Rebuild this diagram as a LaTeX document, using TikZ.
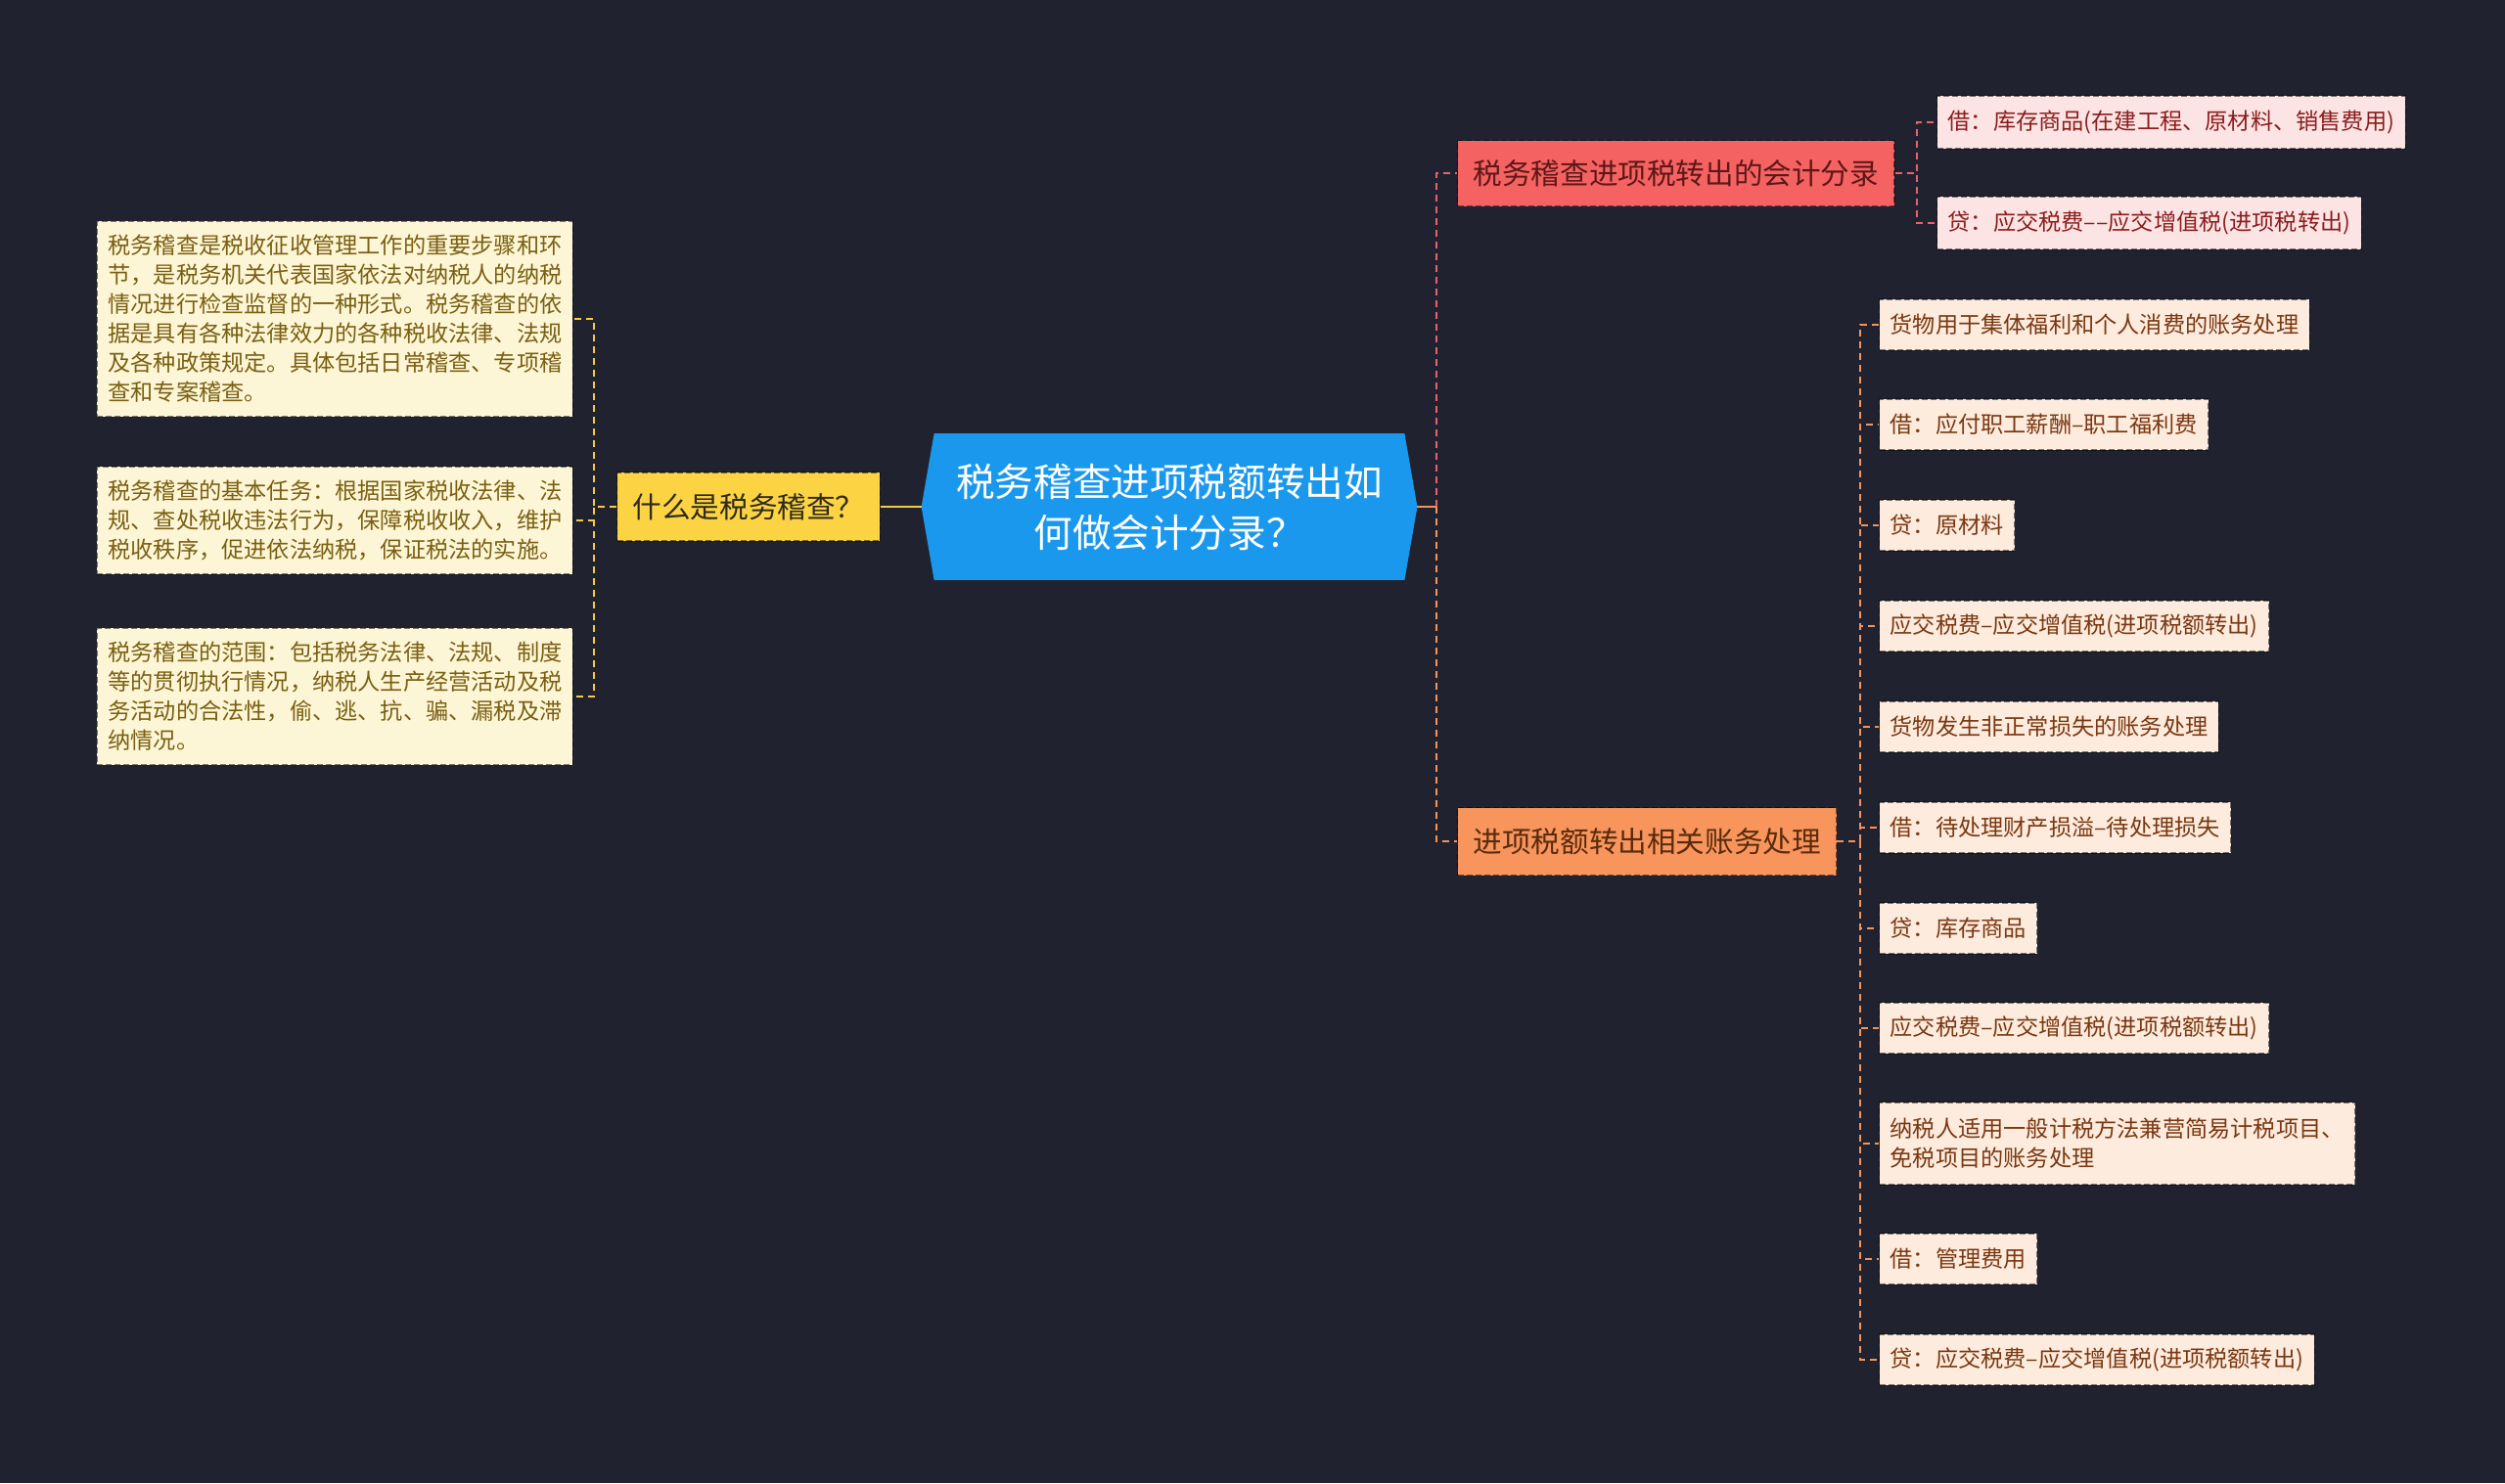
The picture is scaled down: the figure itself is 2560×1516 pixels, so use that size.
\documentclass[tikz,border=0pt]{standalone}
\usepackage{fontspec}
\setmainfont{Noto Sans CJK SC}
\usetikzlibrary{positioning, calc, backgrounds}

\definecolor{bgdark}{HTML}{20232F}
\definecolor{rootblue}{HTML}{1A98EE}
\definecolor{ybox}{HTML}{FCD443}
\definecolor{ytext}{HTML}{2E2A1A}
\definecolor{yleaf}{HTML}{FDF6D6}
\definecolor{yleaftext}{HTML}{7A5F12}
\definecolor{yedge}{HTML}{F4CB45}
\definecolor{rbox}{HTML}{F56262}
\definecolor{rtext}{HTML}{5E1717}
\definecolor{rleaf}{HTML}{FDE4E4}
\definecolor{rleaftext}{HTML}{8A1D1D}
\definecolor{redge}{HTML}{E8626A}
\definecolor{obox}{HTML}{F7955C}
\definecolor{otext}{HTML}{5A2A0C}
\definecolor{oleaf}{HTML}{FDEBDD}
\definecolor{oleaftext}{HTML}{7A3812}
\definecolor{oedge}{HTML}{F2945C}

\begin{document}
\begin{tikzpicture}[
        x=0.5pt, y=-0.5pt,
        box/.style={rectangle, draw=black, draw opacity=0.5, dash pattern=on 3pt off 1.5pt, line width=0.6pt, inner ysep=0pt},
        topic/.style={box, inner xsep=8pt, minimum height=34.5pt, font=\fontsize{14.8}{18}\selectfont, anchor=west},
        leaf/.style={box, inner xsep=5.5pt, minimum height=26pt, align=left, font=\fontsize{11.6}{15}\selectfont},
        note/.style={leaf, fill=yleaf, text=yleaftext, anchor=east, inner ysep=7pt},
        rootnode/.style={rectangle, inner sep=0pt, minimum width=253pt, minimum height=74.5pt, align=center, text=white, font=\fontsize{19.8}{26}\selectfont},
        edge/.style={line width=1pt, dash pattern=on 3.5pt off 2.5pt},
        yline/.style={edge, yedge},
        rline/.style={edge, redge},
        oline/.style={edge, oedge}
    ]
        \useasboundingbox (0,0) rectangle (2560,1516);

        % Nodes
        \node[rootnode] (root) at (1195,518) {税务稽查进项税额转出如\\何做会计分录？};
        \begin{scope}[on background layer]
            \fill[bgdark] (0,0) rectangle (2560,1516);
            \fill[rootblue] ([xshift=6.5pt]root.north west) -- ([xshift=-6.5pt]root.north east) -- (root.east)
                -- ([xshift=-6.5pt]root.south east) -- ([xshift=6.5pt]root.south west) -- (root.west) -- cycle;
        \end{scope}

        \node[topic, fill=ybox, text=ytext, minimum height=35pt] (what) at (630,518) {什么是税务稽查？};
        \node[note] (l1) at (586,326) {税务稽查是税收征收管理工作的重要步骤和环\\节，是税务机关代表国家依法对纳税人的纳税\\情况进行检查监督的一种形式。税务稽查的依\\据是具有各种法律效力的各种税收法律、法规\\及各种政策规定。具体包括日常稽查、专项稽\\查和专案稽查。};
        \node[note] (l2) at (586,532) {税务稽查的基本任务：根据国家税收法律、法\\规、查处税收违法行为，保障税收收入，维护\\税收秩序，促进依法纳税，保证税法的实施。};
        \node[note] (l3) at (586,712) {税务稽查的范围：包括税务法律、法规、制度\\等的贯彻执行情况，纳税人生产经营活动及税\\务活动的合法性，偷、逃、抗、骗、漏税及滞\\纳情况。};

        \node[topic, fill=rbox, text=rtext, minimum height=33.5pt] (entry) at (1489,177) {税务稽查进项税转出的会计分录};
        \node[leaf, fill=rleaf, text=rleaftext, anchor=west, minimum height=27pt] (r1) at (1979,125) {借：库存商品(在建工程、原材料、销售费用)};
        \node[leaf, fill=rleaf, text=rleaftext, anchor=west, minimum height=27pt] (r2) at (1979,228) {贷：应交税费––应交增值税(进项税转出)};

        \node[topic, fill=obox, text=otext] (handle) at (1489,860) {进项税额转出相关账务处理};
        \node[leaf, fill=oleaf, text=oleaftext, anchor=west] (o1) at (1920,332) {货物用于集体福利和个人消费的账务处理};
        \node[leaf, fill=oleaf, text=oleaftext, anchor=west] (o2) at (1920,434) {借：应付职工薪酬–职工福利费};
        \node[leaf, fill=oleaf, text=oleaftext, anchor=west] (o3) at (1920,537) {贷：原材料};
        \node[leaf, fill=oleaf, text=oleaftext, anchor=west] (o4) at (1920,640) {应交税费–应交增值税(进项税额转出)};
        \node[leaf, fill=oleaf, text=oleaftext, anchor=west] (o5) at (1920,743) {货物发生非正常损失的账务处理};
        \node[leaf, fill=oleaf, text=oleaftext, anchor=west] (o6) at (1920,846) {借：待处理财产损溢–待处理损失};
        \node[leaf, fill=oleaf, text=oleaftext, anchor=west] (o7) at (1920,949) {贷：库存商品};
        \node[leaf, fill=oleaf, text=oleaftext, anchor=west] (o8) at (1920,1051) {应交税费–应交增值税(进项税额转出)};
        \node[leaf, fill=oleaf, text=oleaftext, anchor=west, minimum height=42pt] (o9) at (1920,1169) {纳税人适用一般计税方法兼营简易计税项目、\\免税项目的账务处理};
        \node[leaf, fill=oleaf, text=oleaftext, anchor=west] (o10) at (1920,1287) {借：管理费用};
        \node[leaf, fill=oleaf, text=oleaftext, anchor=west] (o11) at (1920,1390) {贷：应交税费–应交增值税(进项税额转出)};

        % Lines
        \draw[yline, solid] (root.west) -- (what.east);
        \path (what.west) -- ++(-23,0) coordinate (lj);
        \draw[yline] (what.west) -- (lj) |- (l1.east);
        \draw[yline] (what.west) -- (lj) |- (l2.east);
        \draw[yline] (what.west) -- (lj) |- (l3.east);

        \path (root.east) -- ++(20,0) coordinate (rj);
        \draw[oline, solid] (root.east) -- (rj);
        \draw[rline] (rj) |- (entry.west);
        \draw[oline] (rj) |- (handle.west);

        \draw[rline] (entry.east) -- ++(22,0) |- (r1.west);
        \draw[rline] (entry.east) -- ++(22,0) |- (r2.west);

        \draw[oline] (handle.east) -- ++(24,0) |- (o1.west);
        \draw[oline] (handle.east) -- ++(24,0) |- (o2.west);
        \draw[oline] (handle.east) -- ++(24,0) |- (o3.west);
        \draw[oline] (handle.east) -- ++(24,0) |- (o4.west);
        \draw[oline] (handle.east) -- ++(24,0) |- (o5.west);
        \draw[oline] (handle.east) -- ++(24,0) |- (o6.west);
        \draw[oline] (handle.east) -- ++(24,0) |- (o7.west);
        \draw[oline] (handle.east) -- ++(24,0) |- (o8.west);
        \draw[oline] (handle.east) -- ++(24,0) |- (o9.west);
        \draw[oline] (handle.east) -- ++(24,0) |- (o10.west);
        \draw[oline] (handle.east) -- ++(24,0) |- (o11.west);
    \end{tikzpicture}
\end{document}
